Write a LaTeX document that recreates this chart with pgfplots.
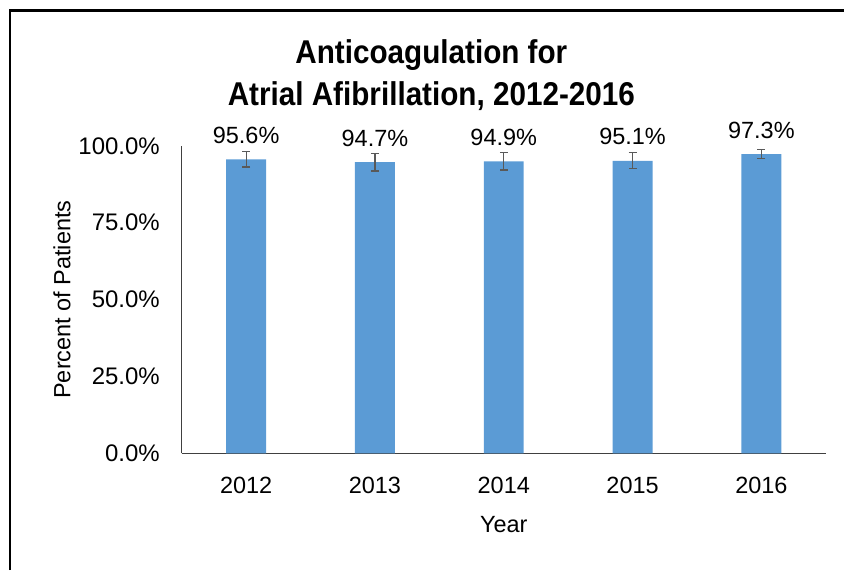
\documentclass[border=0pt]{standalone}
\usepackage{fontspec}
\setmainfont{Liberation Sans}
\newfontfamily\titlefont[FakeStretch=0.9]{Liberation Sans}
\usepackage{pgfplots}
\pgfplotsset{compat=1.18}
\definecolor{barblue}{HTML}{5B9BD5}
\definecolor{axgray}{HTML}{404040}
\definecolor{errgray}{HTML}{595959}
\begin{document}
\fontsize{23.5}{28}\selectfont
\begin{tikzpicture}[x=1pt,y=1pt]
\path (0,0) rectangle (845,571);
\draw[line width=2.5pt,black] (10,0) -- (10,560.5) -- (845,560.5);
\node[anchor=base,font=\titlefont\fontsize{33}{38}\selectfont\bfseries] at (432,507) {Anticoagulation for};
\node[anchor=base,font=\titlefont\fontsize{33}{38}\selectfont\bfseries] at (432,465) {Atrial Afibrillation, 2012-2016};
\begin{axis}[
  at={(182pt,117pt)}, anchor=south west,
  width=645pt, height=308pt, scale only axis,
  xmin=-0.5, xmax=4.5, ymin=0, ymax=100,
  axis x line*=bottom, axis y line*=left,
  axis line style={axgray, line width=1.3pt, -},
  major tick length=0pt,
  xtick=data, xticklabels={2012,2013,2014,2015,2016},
  ytick={0,25,50,75,100},
  /pgf/number format/assume math mode=true,
  yticklabel={\pgfmathprintnumber[fixed,fixed zerofill,precision=1]{\tick}\%},
  yticklabel style={xshift=-14pt, font=\fontsize{24}{28}\selectfont},
  xticklabel style={yshift=-16pt},
  xlabel={Year}, ylabel={Percent of Patients},
  every axis x label/.style={at={(axis description cs:0.5,0)}, anchor=center, yshift=-71pt},
  every axis y label/.style={at={([xshift=-120pt]axis description cs:0,0.5)}, anchor=center, rotate=90},
  ybar, bar width=40pt,
  nodes near coords={\pgfmathprintnumber[fixed,fixed zerofill,precision=1]{\pgfplotspointmeta}\%},
  nodes near coords style={anchor=base, yshift=16pt, inner sep=0pt, text=black},
  point meta=explicit,
]
\addplot[fill=barblue, draw=none,
  error bars/.cd, y dir=both, y explicit,
  error bar style={errgray, line width=1.2pt},
  error mark options={errgray, line width=1.2pt, rotate=90, mark size=4pt}]
  table[x=x, y=y, y error=e, meta=y] {
x y e
0 95.6 2.5
1 94.7 2.9
2 94.9 2.8
3 95.1 2.6
4 97.3 1.5
};
\end{axis}
\end{tikzpicture}
\end{document}
